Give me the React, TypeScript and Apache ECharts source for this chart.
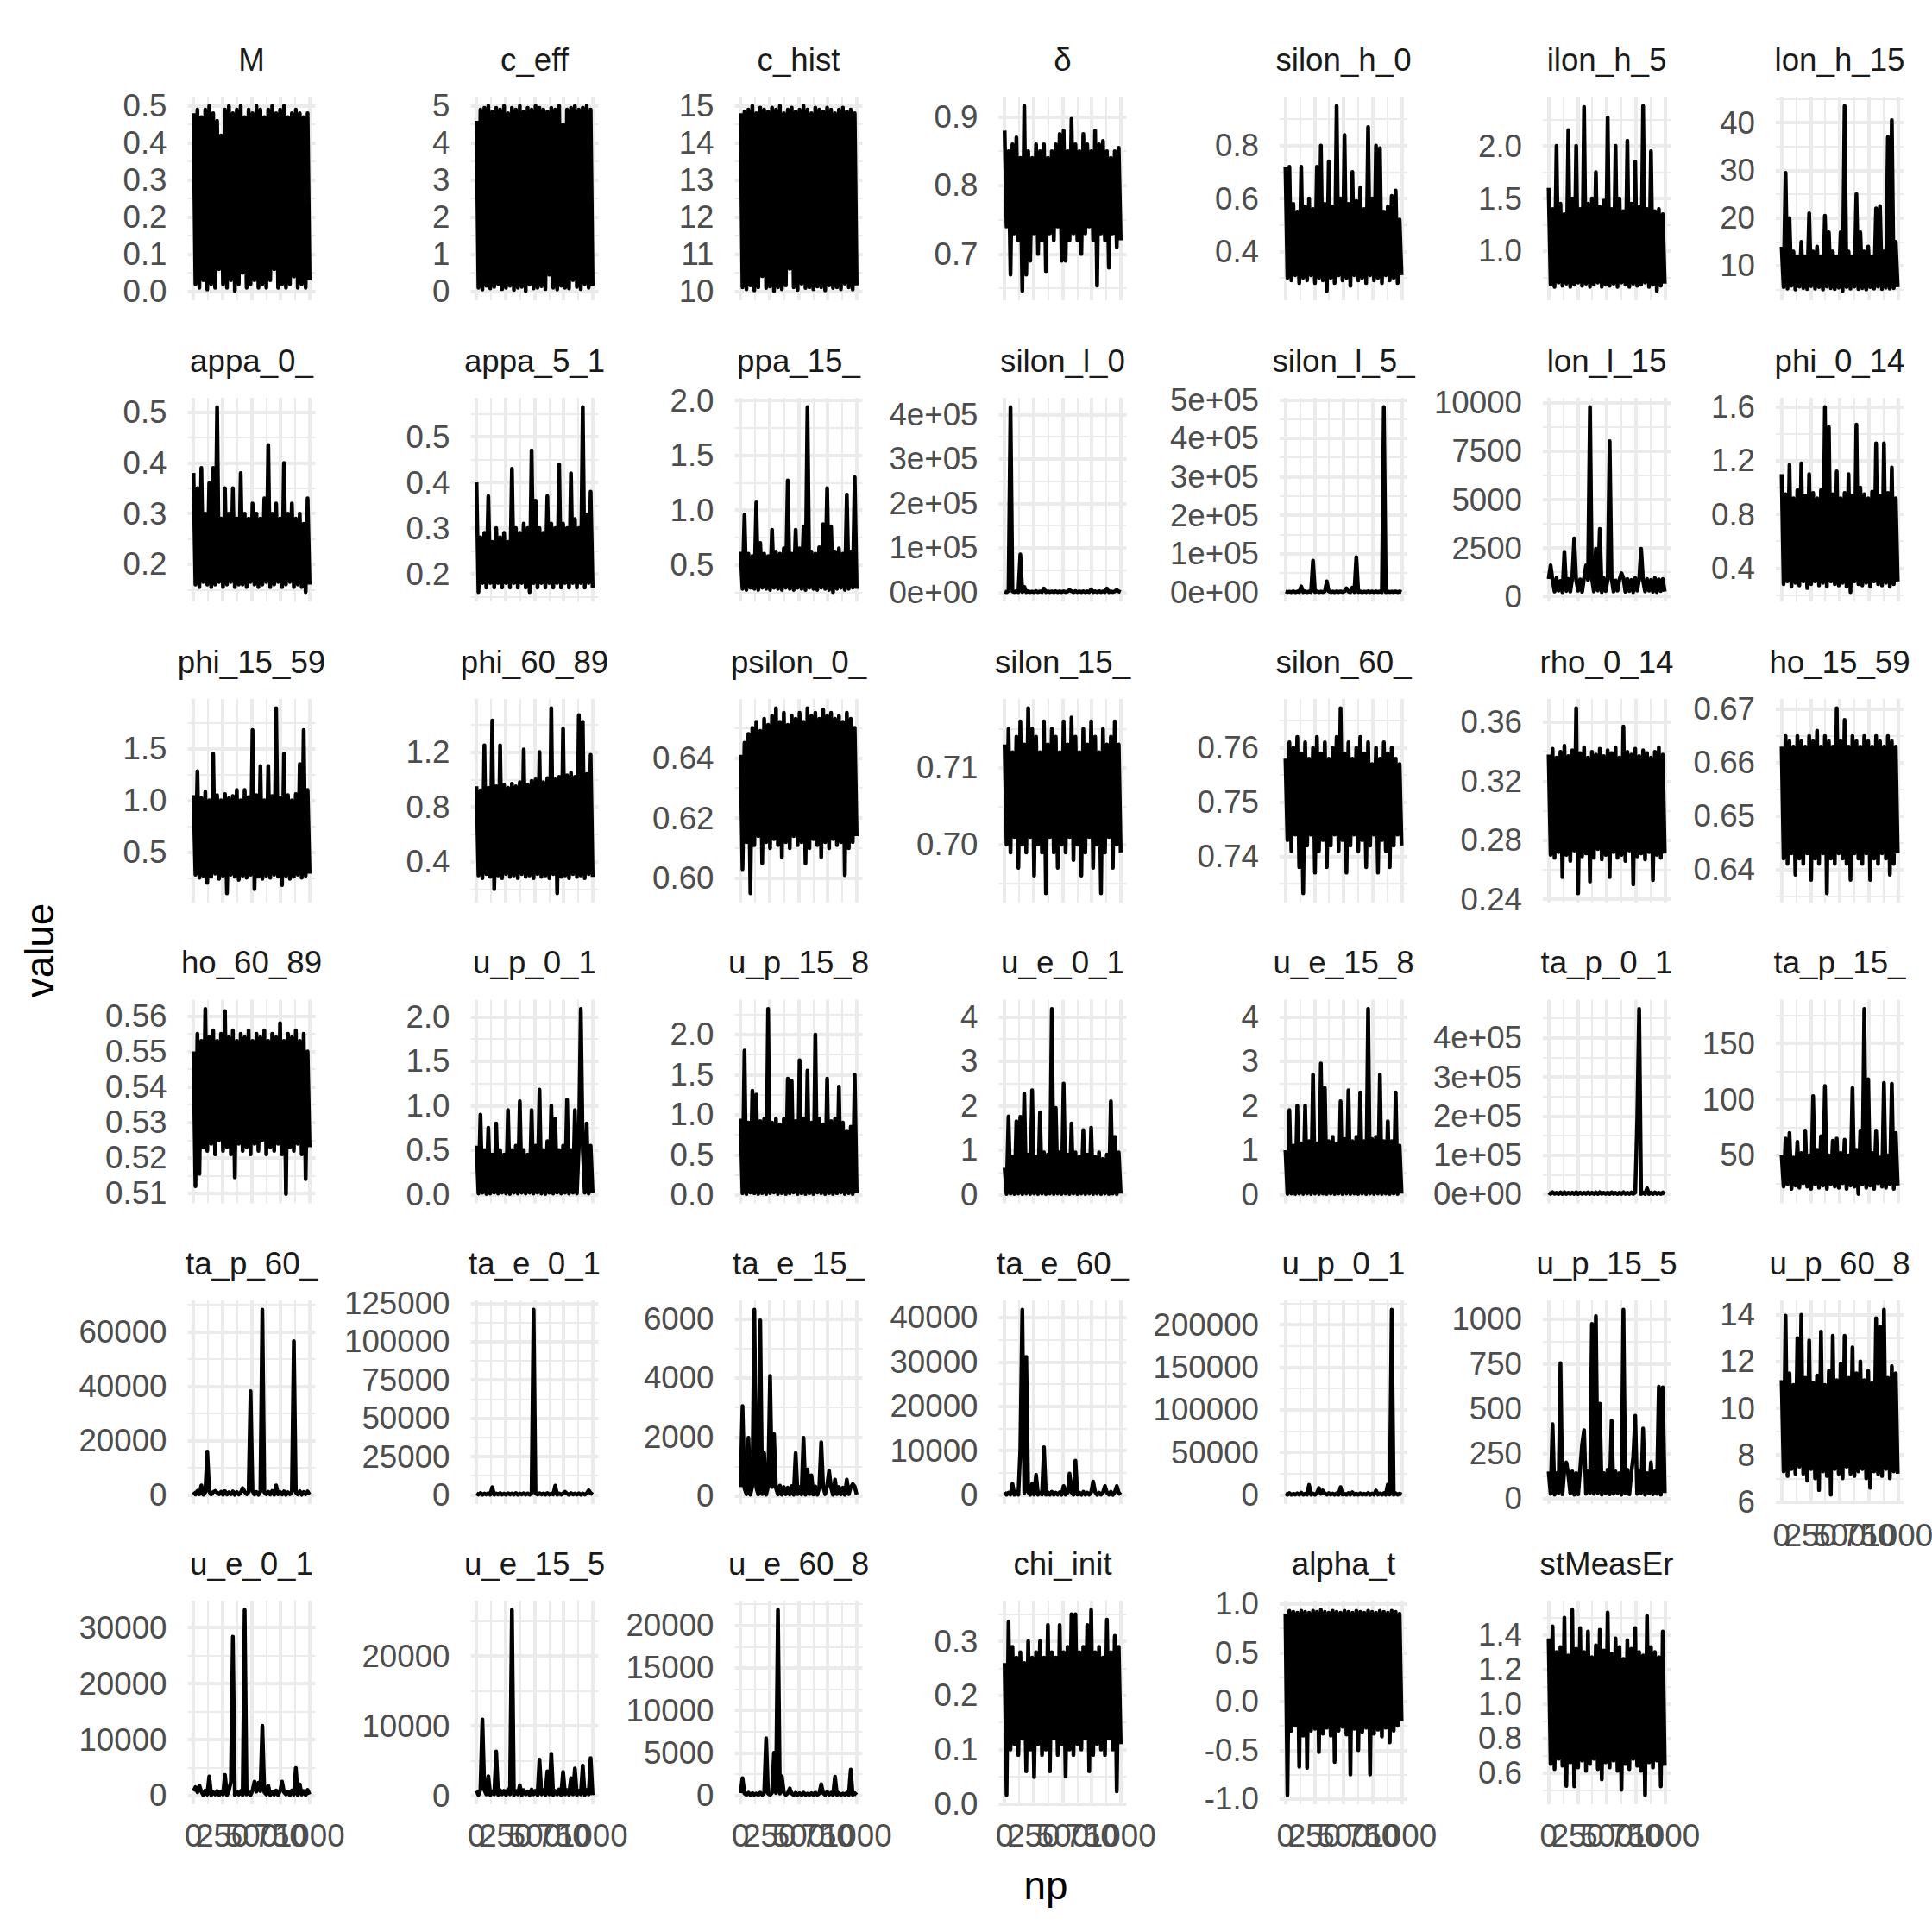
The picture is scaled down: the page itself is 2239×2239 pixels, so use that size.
import React, { useEffect, useRef } from "react";
import * as echarts from "echarts";

// ---------- facet strip texts (as visible, clipped by the strip) ----------
const stripLabels = [
  "M", "c_eff", "c_hist", "δ", "silon_h_0", "ilon_h_5", "lon_h_15",
  "appa_0_", "appa_5_1", "ppa_15_", "silon_l_0", "silon_l_5_", "lon_l_15", "phi_0_14",
  "phi_15_59", "phi_60_89", "psilon_0_", "silon_15_", "silon_60_", "rho_0_14", "ho_15_59",
  "ho_60_89", "u_p_0_1", "u_p_15_8", "u_e_0_1", "u_e_15_8", "ta_p_0_1", "ta_p_15_",
  "ta_p_60_", "ta_e_0_1", "ta_e_15_", "ta_e_60_", "u_p_0_1", "u_p_15_5", "u_p_60_8",
  "u_e_0_1", "u_e_15_5", "u_e_60_8", "chi_init", "alpha_t", "stMeasEr",
];

// ---------- tick labels ----------
const xTickLabels = ["0", "250", "500", "750", "1000"];
const xMinorTicks = [125, 375, 625, 875];
const yTickLabels: string[][] = [
  ["0.0", "0.1", "0.2", "0.3", "0.4", "0.5"],
  ["0", "1", "2", "3", "4", "5"],
  ["10", "11", "12", "13", "14", "15"],
  ["0.7", "0.8", "0.9"],
  ["0.4", "0.6", "0.8"],
  ["1.0", "1.5", "2.0"],
  ["10", "20", "30", "40"],
  ["0.2", "0.3", "0.4", "0.5"],
  ["0.2", "0.3", "0.4", "0.5"],
  ["0.5", "1.0", "1.5", "2.0"],
  ["0e+00", "1e+05", "2e+05", "3e+05", "4e+05"],
  ["0e+00", "1e+05", "2e+05", "3e+05", "4e+05", "5e+05"],
  ["0", "2500", "5000", "7500", "10000"],
  ["0.4", "0.8", "1.2", "1.6"],
  ["0.5", "1.0", "1.5"],
  ["0.4", "0.8", "1.2"],
  ["0.60", "0.62", "0.64"],
  ["0.70", "0.71"],
  ["0.74", "0.75", "0.76"],
  ["0.24", "0.28", "0.32", "0.36"],
  ["0.64", "0.65", "0.66", "0.67"],
  ["0.51", "0.52", "0.53", "0.54", "0.55", "0.56"],
  ["0.0", "0.5", "1.0", "1.5", "2.0"],
  ["0.0", "0.5", "1.0", "1.5", "2.0"],
  ["0", "1", "2", "3", "4"],
  ["0", "1", "2", "3", "4"],
  ["0e+00", "1e+05", "2e+05", "3e+05", "4e+05"],
  ["50", "100", "150"],
  ["0", "20000", "40000", "60000"],
  ["0", "25000", "50000", "75000", "100000", "125000"],
  ["0", "2000", "4000", "6000"],
  ["0", "10000", "20000", "30000", "40000"],
  ["0", "50000", "100000", "150000", "200000"],
  ["0", "250", "500", "750", "1000"],
  ["6", "8", "10", "12", "14"],
  ["0", "10000", "20000", "30000"],
  ["0", "10000", "20000"],
  ["0", "5000", "10000", "15000", "20000"],
  ["0.0", "0.1", "0.2", "0.3"],
  ["-1.0", "-0.5", "0.0", "0.5", "1.0"],
  ["0.6", "0.8", "1.0", "1.2", "1.4"],
];

// ---------- trace values (evenly spaced over np 1..1000) ----------
const M_ = [
  0.48,0.02,0.49,0.01,0.47,0.03,0.49,0.005,0.50,0.02,
  0.48,0.01,0.46,0.06,0.42,0.02,0.49,0.01,0.50,0.03,
  0.48,0.001,0.49,0.02,0.50,0.05,0.47,0.01,0.49,0.02,
  0.48,0.03,0.50,0.01,0.49,0.02,0.47,0.01,0.49,0.03,
  0.50,0.06,0.48,0.01,0.49,0.02,0.50,0.01,0.47,0.02,
  0.48,0.04,0.49,0.01,0.48,0.02,0.47,0.01,0.48,0.03,
];
const c_eff = [
  4.6,0.1,4.9,0.05,4.95,0.15,5.0,0.08,4.85,0.12,
  4.95,0.2,4.9,0.06,5.0,0.1,4.8,0.15,4.95,0.04,
  4.9,0.1,5.0,0.12,4.85,0.01,4.95,0.18,4.9,0.08,
  5.0,0.1,4.95,0.14,4.9,0.06,4.85,0.45,4.95,0.1,
  4.9,0.05,5.0,0.15,4.5,0.1,4.9,0.08,4.95,0.3,
  5.0,0.12,4.9,0.06,4.95,0.2,5.0,0.1,4.9,0.15,
];
const c_hist = [
  14.8,10.1,14.85,10.05,14.9,10.15,15.0,10.02,14.8,10.1,
  14.95,10.4,14.9,10.08,14.85,10.12,14.95,10.0,14.9,10.1,
  15.0,10.05,14.8,10.15,14.9,10.6,14.95,10.1,14.85,10.03,
  14.9,10.2,15.0,10.08,14.9,10.1,14.8,10.05,14.95,10.12,
  14.9,10.1,14.85,10.02,14.95,10.15,14.9,10.08,14.8,10.1,
  14.9,10.05,14.95,10.2,14.85,10.1,14.9,10.04,14.8,10.15,
];
const delta = [
  0.88,0.74,0.85,0.67,0.86,0.73,0.87,0.72,0.84,0.646,
  0.916,0.67,0.85,0.69,0.84,0.73,0.86,0.70,0.85,0.72,
  0.86,0.675,0.84,0.73,0.85,0.72,0.86,0.74,0.875,0.69,
  0.88,0.69,0.85,0.72,0.897,0.73,0.86,0.72,0.85,0.70,
  0.875,0.73,0.86,0.74,0.85,0.72,0.88,0.654,0.86,0.73,
  0.865,0.72,0.85,0.68,0.84,0.73,0.85,0.71,0.855,0.72,
];
const eps_h_0 = [
  0.72,0.30,0.72,0.29,0.58,0.31,0.55,0.28,0.72,0.30,
  0.57,0.29,0.60,0.31,0.56,0.28,0.72,0.30,0.80,0.29,
  0.58,0.25,0.74,0.30,0.57,0.28,0.95,0.31,0.60,0.29,
  0.84,0.30,0.58,0.27,0.70,0.31,0.59,0.29,0.64,0.30,
  0.56,0.28,0.87,0.31,0.60,0.29,0.80,0.30,0.79,0.28,
  0.55,0.31,0.57,0.29,0.61,0.30,0.63,0.28,0.52,0.31,
];
const eps_h_5 = [
  1.60,0.68,1.40,0.66,2.00,0.70,1.45,0.67,1.35,0.69,
  2.15,0.66,1.50,0.68,2.00,0.70,1.40,0.67,2.37,0.69,
  1.45,0.66,1.50,0.68,1.75,0.70,1.42,0.66,1.48,0.68,
  2.27,0.67,1.40,0.69,2.00,0.66,1.50,0.70,1.38,0.68,
  2.05,0.66,1.45,0.69,1.85,0.67,1.42,0.68,2.38,0.70,
  1.40,0.66,1.95,0.68,1.38,0.62,1.40,0.67,1.35,0.69,
];
const eps_h_15 = [
  14,5.5,29.5,5.2,20,5.8,13,5.0,12,5.6,
  15,5.3,12,5.1,21,5.7,13,5.2,14,5.5,
  12,5.0,20.5,5.6,17,5.3,13,5.1,12,5.4,
  17,4.7,43.5,5.5,13,5.2,12,5.6,25,5.1,
  17,5.3,13,5.0,14,5.5,12,5.2,22,5.6,
  22.5,5.1,13,5.4,37,5.2,40.5,5.3,15,5.5,
];
const kappa_0 = [
  0.38,0.16,0.35,0.155,0.39,0.165,0.30,0.16,0.36,0.155,
  0.39,0.16,0.51,0.165,0.29,0.155,0.35,0.16,0.30,0.165,
  0.35,0.155,0.29,0.16,0.38,0.16,0.30,0.155,0.29,0.165,
  0.32,0.16,0.30,0.155,0.29,0.16,0.33,0.165,0.435,0.155,
  0.30,0.16,0.32,0.165,0.29,0.155,0.40,0.16,0.30,0.165,
  0.32,0.155,0.29,0.16,0.30,0.155,0.28,0.145,0.33,0.16,
];
const kappa_5 = [
  0.40,0.16,0.28,0.18,0.29,0.17,0.37,0.18,0.27,0.17,
  0.30,0.18,0.28,0.17,0.29,0.18,0.27,0.17,0.43,0.18,
  0.30,0.17,0.29,0.18,0.31,0.17,0.30,0.16,0.47,0.18,
  0.36,0.17,0.30,0.18,0.29,0.17,0.37,0.18,0.31,0.17,
  0.30,0.18,0.44,0.17,0.31,0.18,0.30,0.17,0.42,0.18,
  0.32,0.17,0.30,0.18,0.565,0.17,0.33,0.18,0.38,0.17,
];
const kappa_15 = [
  0.62,0.28,0.96,0.27,0.60,0.29,0.58,0.28,1.07,0.27,
  0.70,0.29,0.60,0.28,0.58,0.27,0.82,0.29,0.62,0.28,
  0.60,0.27,0.65,0.29,1.27,0.28,0.60,0.27,0.82,0.29,
  0.65,0.28,0.85,0.27,1.94,0.29,0.62,0.28,0.60,0.27,
  0.66,0.29,0.87,0.28,1.20,0.27,0.85,0.25,0.62,0.28,
  0.65,0.29,0.60,0.27,1.14,0.28,0.62,0.29,1.30,0.28,
];
const eps_l_0 = [
  1500,200,2500,417000,1800,300,2200,100,85000,400,
  12000,200,2000,300,1500,100,2400,300,1800,200,
  8000,100,2000,300,1700,200,2300,100,1900,300,
  2100,200,1600,5000,2000,100,2400,300,1800,200,
  2200,100,1900,300,6000,200,2000,100,2300,300,
  1700,200,8000,100,2100,300,1800,5000,2000,200,
];
const eps_l_5 = [
  2000,300,1500,200,2500,100,1800,300,15000,200,
  2200,100,1900,300,82000,200,2400,100,1700,300,
  2100,28000,2000,200,1600,100,2300,300,1900,200,
  2200,10000,1800,100,12000,300,91000,200,2000,100,
  1700,300,2400,200,1900,100,2200,300,1800,200,
  481000,100,2000,300,1600,200,2100,100,1900,300,
];
const eps_l_15 = [
  900,1600,850,250,950,300,800,220,2300,280,
  900,250,950,2990,820,300,880,240,950,1600,
  850,9780,900,260,2455,300,3485,220,950,280,
  850,8015,900,250,820,300,880,1200,950,240,
  900,280,850,220,950,300,880,2455,820,260,
  900,300,850,240,950,220,880,280,900,250,
];
const phi_0_14 = [
  1.10,0.28,0.95,0.30,1.17,0.26,0.92,0.29,0.98,0.27,
  1.18,0.30,0.94,0.25,1.10,0.28,0.96,0.30,0.92,0.27,
  0.98,0.29,1.60,0.26,1.45,0.30,0.95,0.28,1.12,0.27,
  0.92,0.29,0.96,0.26,1.10,0.22,0.94,0.30,1.47,0.28,
  1.00,0.27,0.95,0.29,0.92,0.26,0.97,0.30,1.33,0.28,
  0.94,0.27,1.33,0.29,0.96,0.26,1.15,0.28,0.92,0.30,
];
const phi_15_59 = [
  1.05,0.28,1.28,0.25,1.02,0.27,1.08,0.20,1.00,0.26,
  1.45,0.29,1.05,0.24,1.00,0.27,1.06,0.10,1.02,0.28,
  1.04,0.26,1.10,0.23,1.00,0.27,1.10,0.25,1.03,0.28,
  1.68,0.14,1.05,0.26,1.33,0.24,1.00,0.27,1.33,0.25,
  1.04,0.28,1.89,0.26,1.02,0.18,1.45,0.27,1.05,0.24,
  1.00,0.26,1.06,0.28,1.35,0.25,1.68,0.27,1.10,0.29,
];
const phi_60_89 = [
  0.95,0.30,0.92,0.28,1.25,0.31,0.94,0.29,1.43,0.20,
  0.95,0.30,1.25,0.28,0.96,0.31,0.94,0.29,0.97,0.30,
  0.95,0.28,0.98,0.31,1.22,0.29,0.96,0.30,0.99,0.28,
  1.00,0.31,1.20,0.29,0.98,0.30,1.01,0.28,1.52,0.31,
  1.00,0.17,1.02,0.29,1.37,0.30,1.03,0.28,1.05,0.31,
  1.02,0.29,1.47,0.30,1.42,0.28,1.04,0.31,1.18,0.29,
];
const eps_0 = [
  0.641,0.603,0.645,0.612,0.648,0.595,0.650,0.611,0.652,0.614,
  0.649,0.605,0.653,0.612,0.651,0.610,0.654,0.613,0.6565,0.611,
  0.652,0.607,0.655,0.612,0.651,0.610,0.654,0.614,0.653,0.611,
  0.655,0.612,0.652,0.605,0.6565,0.610,0.654,0.613,0.655,0.611,
  0.653,0.607,0.656,0.612,0.654,0.610,0.655,0.613,0.653,0.611,
  0.654,0.612,0.652,0.601,0.655,0.610,0.653,0.612,0.650,0.614,
];
const eps_15 = [
  0.713,0.700,0.715,0.699,0.712,0.701,0.714,0.697,0.716,0.700,
  0.713,0.699,0.7177,0.701,0.715,0.696,0.714,0.700,0.712,0.699,
  0.716,0.6937,0.713,0.701,0.715,0.699,0.714,0.697,0.712,0.700,
  0.716,0.699,0.713,0.701,0.7165,0.698,0.714,0.700,0.712,0.696,
  0.715,0.699,0.713,0.701,0.716,0.697,0.714,0.700,0.712,0.6937,
  0.715,0.699,0.713,0.701,0.714,0.697,0.716,0.700,0.713,0.699,
];
const eps_60 = [
  0.758,0.743,0.761,0.741,0.760,0.744,0.762,0.738,0.759,0.7332,
  0.761,0.742,0.758,0.744,0.760,0.737,0.762,0.741,0.759,0.743,
  0.761,0.738,0.758,0.742,0.760,0.744,0.762,0.741,0.7673,0.743,
  0.759,0.737,0.761,0.742,0.758,0.744,0.760,0.741,0.762,0.743,
  0.759,0.738,0.761,0.742,0.757,0.744,0.760,0.737,0.758,0.743,
  0.761,0.741,0.759,0.738,0.760,0.742,0.758,0.744,0.757,0.742,
];
const rho_0_14 = [
  0.338,0.270,0.342,0.268,0.336,0.272,0.340,0.255,0.344,0.270,
  0.337,0.266,0.341,0.273,0.3695,0.244,0.339,0.269,0.343,0.271,
  0.336,0.252,0.340,0.268,0.338,0.274,0.342,0.267,0.337,0.270,
  0.341,0.255,0.339,0.272,0.343,0.268,0.336,0.270,0.357,0.266,
  0.340,0.273,0.338,0.250,0.342,0.269,0.337,0.271,0.341,0.267,
  0.339,0.272,0.336,0.253,0.340,0.270,0.343,0.268,0.338,0.271,
];
const rho_15_59 = [
  0.663,0.642,0.665,0.641,0.664,0.643,0.663,0.639,0.665,0.642,
  0.664,0.641,0.663,0.643,0.665,0.638,0.664,0.642,0.666,0.641,
  0.663,0.643,0.665,0.6355,0.664,0.642,0.663,0.641,0.6702,0.643,
  0.664,0.642,0.668,0.641,0.663,0.638,0.665,0.643,0.664,0.642,
  0.663,0.641,0.665,0.643,0.664,0.638,0.663,0.642,0.665,0.641,
  0.664,0.643,0.663,0.642,0.665,0.639,0.664,0.641,0.663,0.643,
];
const rho_60_89 = [
  0.550,0.512,0.555,0.5155,0.553,0.523,0.562,0.522,0.554,0.524,
  0.556,0.521,0.553,0.525,0.555,0.522,0.5614,0.523,0.554,0.521,
  0.556,0.5145,0.553,0.524,0.555,0.522,0.554,0.523,0.556,0.521,
  0.553,0.524,0.555,0.522,0.554,0.525,0.556,0.521,0.553,0.523,
  0.555,0.522,0.554,0.524,0.558,0.521,0.553,0.5098,0.555,0.523,
  0.554,0.522,0.556,0.524,0.553,0.521,0.555,0.514,0.550,0.523,
];
const tau_p_0 = [
  0.55,0.01,0.90,0.02,0.50,0.005,0.75,0.01,0.45,0.02,
  0.80,0.01,0.50,0.02,0.45,0.01,0.95,0.005,0.50,0.02,
  0.55,0.01,1.05,0.02,0.50,0.01,0.45,0.02,0.95,0.01,
  0.55,0.02,1.18,0.01,0.50,0.005,0.60,0.02,1.00,0.01,
  0.85,0.02,0.50,0.01,0.55,0.02,1.07,0.01,0.50,0.02,
  0.95,0.01,0.55,2.09,0.50,0.02,0.80,0.01,0.55,0.02,
];
const tau_p_15 = [
  0.95,0.02,1.80,0.01,0.90,0.03,1.30,0.02,1.25,0.01,
  0.92,0.02,0.95,0.01,2.32,0.02,0.90,0.03,0.95,0.01,
  0.88,0.02,0.95,0.01,1.45,0.02,1.42,0.03,0.92,0.01,
  1.68,0.02,0.95,0.01,1.55,0.02,0.90,0.01,2.00,0.03,
  0.95,0.02,0.88,0.01,1.45,0.02,0.92,0.01,0.95,0.02,
  1.35,0.03,0.90,0.01,0.80,0.02,0.85,0.01,1.50,0.02,
];
const tau_e_0 = [
  0.60,0.01,1.76,0.02,0.85,0.01,1.65,0.02,1.75,0.01,
  2.27,0.02,0.90,0.01,2.35,0.02,0.85,0.01,1.85,0.02,
  0.95,0.01,0.90,0.02,4.18,0.01,1.95,0.02,0.95,0.01,
  2.50,0.02,0.90,0.01,1.60,0.02,0.95,0.01,0.85,0.02,
  1.45,0.01,0.90,0.02,1.50,0.01,0.85,0.02,0.95,0.01,
  0.80,0.02,0.90,0.01,2.10,0.02,1.30,0.01,0.95,0.02,
];
const tau_e_15 = [
  1.00,0.01,1.90,0.02,1.10,0.01,2.00,0.02,1.15,0.01,
  2.00,0.02,1.20,0.01,2.70,0.02,1.15,0.01,2.95,0.02,
  2.40,0.01,1.20,0.02,1.30,0.01,1.15,0.02,2.10,0.01,
  1.25,0.02,2.35,0.01,1.20,0.02,1.30,0.01,2.30,0.02,
  1.20,0.01,4.18,0.02,1.25,0.01,1.30,0.02,2.70,0.01,
  1.20,0.02,1.65,0.01,1.20,0.02,2.30,0.01,1.10,0.02,
];
const eta_p_0 = [
  4000,500,5000,800,3500,300,4500,600,5000,400,
  3800,700,4200,500,5000,300,4000,600,3600,800,
  4800,400,3900,600,4500,300,5000,700,3700,500,
  4200,400,4800,600,3600,300,4300,700,5000,500,
  3800,400,4500,600,3900,184000,474000,500,4200,300,
  15000,600,4000,400,4600,700,3800,500,4400,300,
];
const eta_p_15 = [
  50,22,65,24,70,20,48,23,62,21,
  52,25,72,22,50,20,103,24,55,21,
  67,23,112,20,50,24,63,22,65,21,
  52,25,64,20,50,23,110,22,55,15.4,
  72,24,180.8,21,118,23,52,20,72,25,
  48,22,114.6,21,50,24,114,20,70,23,
];
const eta_p_60 = [
  1200,200,1500,300,3500,100,1000,16000,1300,200,
  1100,1500,900,300,1200,100,1400,200,1000,300,
  1300,100,1100,200,900,2500,1200,300,1000,38200,
  1400,200,1100,100,1300,68200,1000,300,1200,200,
  1500,100,3500,300,1100,200,1300,100,1000,300,
  1200,56600,900,200,1400,100,1100,300,1300,200,
];
const eta_e_0 = [
  1000,200,1200,100,900,300,1100,200,5000,100,
  1000,300,1200,200,900,100,1100,300,1000,200,
  1200,100,900,300,1100,200,1000,100,1200,120900,
  900,200,1100,300,1000,100,1200,200,900,300,
  6000,100,1000,200,1100,2000,900,100,1200,300,
  1000,200,1100,100,900,300,1000,3000,1200,200,
];
const eta_e_15 = [
  300,3050,250,60,1970,40,350,6320,280,50,
  5950,60,1450,40,320,4070,300,2100,260,50,
  350,40,300,60,280,50,330,40,1450,60,
  300,50,1970,40,900,60,700,50,320,40,
  280,1820,300,60,350,850,280,40,550,60,
  300,50,280,40,550,60,300,400,320,50,
];
const eta_e_60 = [
  600,50,500,80,2500,40,700,60,10300,41800,
  500,31160,600,40,2500,70,4500,50,500,80,
  10770,40,600,60,700,50,500,80,600,40,
  2000,60,500,4800,600,50,7740,80,500,40,
  700,60,500,50,600,3000,700,40,500,80,
  600,2000,500,60,700,40,600,2000,500,50,
];
const mu_p_0 = [
  1500,200,2000,100,1200,300,1800,200,2500,100,
  1400,300,11700,200,1600,100,2200,8000,1300,5000,
  1700,200,2000,300,1500,100,1800,200,9000,300,
  1400,100,2100,200,3000,300,1600,100,1900,200,
  1300,300,2200,100,1500,200,5000,300,1700,100,
  2000,200,12000,300,217700,100,1800,200,1400,300,
];
const mu_p_15 = [
  150,25,413,20,140,30,754,22,160,200,
  130,28,150,20,140,22,160,300,380,25,
  150,30,973,25,1016,30,527,20,140,28,
  160,22,433,25,150,30,140,20,1052,28,
  160,22,140,230,460,25,150,30,389,20,
  140,28,200,22,150,25,622,20,619,30,
];
const mu_p_60 = [
  11.2,7.3,13.96,7.1,11.5,7.4,11.0,7.2,13.0,7.5,
  14.0,7.2,11.3,6.9,12.9,7.4,11.1,7.0,11.4,6.5,
  13.28,7.3,11.0,7.1,11.6,6.3,13.1,7.4,11.2,7.2,
  11.9,7.0,13.1,7.5,11.3,7.2,12.6,7.1,11.5,7.3,
  12.0,7.4,11.2,7.0,11.6,6.6,11.1,7.3,13.85,7.2,
  13.5,7.1,14.22,7.4,11.3,7.0,11.8,7.3,11.5,7.2,
];
const mu_e_0 = [
  800,1500,600,1800,700,100,900,200,3400,100,
  600,200,800,100,700,200,3700,100,900,2500,
  28370,100,700,200,800,100,33150,200,600,100,
  900,2500,700,2300,800,12450,600,200,1800,100,
  700,200,900,100,800,2500,600,200,700,100,
  900,200,4930,100,2000,200,800,100,1000,200,
];
const mu_e_15 = [
  700,100,900,10900,800,200,2800,100,600,200,
  6330,100,800,200,700,100,900,200,26600,100,
  700,200,1500,100,800,200,600,100,900,200,
  700,100,5180,200,800,100,3500,200,6000,100,
  700,200,900,100,3400,200,800,100,2500,200,
  3900,100,700,200,4300,100,800,200,5390,100,
];
const mu_e_60 = [
  250,2000,200,40,300,20,250,50,200,30,
  300,40,250,6700,200,30,300,5000,250,21830,
  200,2200,300,40,250,800,200,30,300,50,
  250,20,300,40,200,30,250,50,300,40,
  200,1300,250,30,400,50,300,20,2180,40,
  250,30,200,50,300,20,3010,40,250,30,
];
const chi_init = [
  0.26,0.016,0.336,0.10,0.29,0.11,0.27,0.09,0.28,0.12,
  0.26,0.06,0.30,0.10,0.27,0.049,0.28,0.11,0.30,0.09,
  0.27,0.10,0.33,0.06,0.28,0.12,0.27,0.09,0.33,0.11,
  0.28,0.05,0.29,0.10,0.35,0.09,0.35,0.11,0.28,0.10,
  0.29,0.12,0.33,0.06,0.358,0.09,0.28,0.11,0.29,0.10,
  0.27,0.09,0.34,0.12,0.28,0.10,0.31,0.023,0.29,0.11,
];
const alpha_t = [
  0.90,-0.96,0.93,-0.30,0.92,-0.25,0.91,-0.67,0.93,-0.35,
  0.92,-0.68,0.91,-0.30,0.93,-0.28,0.92,-0.52,0.94,-0.33,
  0.92,-0.27,0.91,-0.35,0.93,-0.62,0.92,-0.30,0.91,-0.26,
  0.93,-0.34,0.92,-0.75,0.91,-0.28,0.93,-0.50,0.92,-0.31,
  0.91,-0.27,0.93,-0.75,0.92,-0.33,0.91,-0.29,0.93,-0.36,
  0.92,-0.27,0.91,-0.42,0.93,-0.30,0.92,-0.25,0.90,-0.20,
];
const stMeasErr = [
  1.38,0.65,1.45,0.62,1.30,0.68,1.33,0.64,1.50,0.523,
  1.28,0.66,1.545,0.52,1.32,0.63,1.44,0.67,1.30,0.61,
  1.42,0.65,1.27,0.68,1.34,0.62,1.43,0.56,1.31,0.66,
  1.53,0.63,1.29,0.67,1.38,0.61,1.33,0.50,1.26,0.65,
  1.37,0.62,1.32,0.68,1.44,0.64,1.30,0.61,1.28,0.47,
  1.51,0.66,1.33,0.63,1.30,0.67,1.27,0.52,1.42,0.64,
];

const traces: number[][] = [
  M_, c_eff, c_hist, delta, eps_h_0, eps_h_5, eps_h_15,
  kappa_0, kappa_5, kappa_15, eps_l_0, eps_l_5, eps_l_15, phi_0_14,
  phi_15_59, phi_60_89, eps_0, eps_15, eps_60, rho_0_14, rho_15_59,
  rho_60_89, tau_p_0, tau_p_15, tau_e_0, tau_e_15, eta_p_0, eta_p_15,
  eta_p_60, eta_e_0, eta_e_15, eta_e_60, mu_p_0, mu_p_15, mu_p_60,
  mu_e_0, mu_e_15, mu_e_60, chi_init, alpha_t, stMeasErr,
];

// ---------- layout ----------
const FONT = "'Liberation Sans', Arial, Helvetica, sans-serif";
const COL_LEFT = [217.5, 545.5, 851.5, 1157.5, 1483, 1788, 2058];
const ROW_TOP = [112, 461, 810, 1158.5, 1507, 1855];
const PW = 148;
const PH = 236;
const TICK_FS = 36.7;
const GRID_COLOR = "#EBEBEB";

function labelFormatter(labels: string[], values: number[]) {
  return (v: number) => {
    for (let i = 0; i < values.length; i++) {
      if (Math.abs(v - values[i]) <= 1e-9 * Math.max(1, Math.abs(values[i]))) return labels[i];
    }
    return "";
  };
}

function buildOption() {
  const grid: any[] = [];
  const xAxis: any[] = [];
  const yAxis: any[] = [];
  const series: any[] = [];
  const graphic: any[] = [];
  const xMajor = xTickLabels.map(Number);
  // the x tick labels overlap each other (as in the reference); they are spread over
  // three axes so that none of them gets dropped by the overlap handling
  const xLabelSets = [
    [xMajor[0], xMajor[2]],
    [xMajor[1], xMajor[3]],
    [xMajor[4]],
  ];
  const xFmt = labelFormatter(xTickLabels, xMajor);
  const xLo = 1, xHi = 1000;
  const xPad = 0.05 * (xHi - xLo);

  const xLabelStyle = {
    fontSize: TICK_FS, fontFamily: FONT, color: "#4D4D4D", margin: 18,
    showMinLabel: true, showMaxLabel: true, hideOverlap: false,
  };

  traces.forEach((vals, p) => {
    const r = Math.floor(p / 7);
    const c = p % 7;
    const left = COL_LEFT[c];
    const top = ROW_TOP[r];
    grid.push({ left, top, width: PW, height: PH, containLabel: false, outerBoundsMode: "none", show: false });

    const n = vals.length;
    const data = vals.map((v, i) => [xLo + (i * (xHi - xLo)) / (n - 1), v]);
    const lo = Math.min(...vals);
    const hi = Math.max(...vals);
    const pad = 0.05 * (hi - lo);
    const yMin = lo - pad;
    const yMax = hi + pad;

    const labs = yTickLabels[p];
    const allMajor = labs.map(Number);
    const yMajor = allMajor.filter((v) => v >= yMin && v <= yMax);
    const step = allMajor[1] - allMajor[0];
    const yMinor = [allMajor[0] - step / 2]
      .concat(allMajor.slice(0, -1).map((v, i) => (v + allMajor[i + 1]) / 2))
      .concat([allMajor[allMajor.length - 1] + step / 2])
      .filter((v) => v > yMin && v < yMax);

    const showX = p >= 34;
    const xm = xMinorTicks.filter((v) => v > xLo - xPad && v < xHi + xPad);

    // x axis 3p: major grid lines
    xAxis.push({
      type: "value", gridIndex: p, position: "bottom",
      min: xLo - xPad, max: xHi + xPad,
      axisLine: { show: false, onZero: false },
      axisTick: { show: false, customValues: xMajor },
      splitLine: { show: true, customValues: xMajor, lineStyle: { color: GRID_COLOR, width: 4 } },
      axisLabel: { show: showX, customValues: xLabelSets[0], formatter: xFmt, ...xLabelStyle },
    });
    // x axis 3p+1: minor grid lines
    xAxis.push({
      type: "value", gridIndex: p, position: "bottom",
      min: xLo - xPad, max: xHi + xPad,
      axisLine: { show: false, onZero: false },
      axisTick: { show: false, customValues: xm },
      splitLine: { show: true, customValues: xm, lineStyle: { color: GRID_COLOR, width: 2 } },
      axisLabel: { show: showX, customValues: xLabelSets[1], formatter: xFmt, ...xLabelStyle },
    });
    // x axis 3p+2: remaining label only
    xAxis.push({
      type: "value", gridIndex: p, position: "bottom",
      min: xLo - xPad, max: xHi + xPad,
      axisLine: { show: false, onZero: false },
      axisTick: { show: false, customValues: xLabelSets[2] },
      splitLine: { show: false },
      axisLabel: { show: showX, customValues: xLabelSets[2], formatter: xFmt, ...xLabelStyle },
    });
    yAxis.push({
      type: "value", gridIndex: p, position: "left",
      min: yMin, max: yMax,
      axisLine: { show: false, onZero: false },
      axisTick: { show: false, customValues: yMajor },
      splitLine: { show: true, customValues: yMajor, lineStyle: { color: GRID_COLOR, width: 4 } },
      axisLabel: {
        show: true, customValues: yMajor, formatter: labelFormatter(labs, allMajor),
        fontSize: TICK_FS, fontFamily: FONT, color: "#4D4D4D", margin: 24,
        showMinLabel: true, showMaxLabel: true, hideOverlap: false,
      },
    });
    yAxis.push({
      type: "value", gridIndex: p, position: "right",
      min: yMin, max: yMax,
      axisLine: { show: false, onZero: false },
      axisTick: { show: false, customValues: yMinor },
      splitLine: { show: true, customValues: yMinor, lineStyle: { color: GRID_COLOR, width: 2 } },
      axisLabel: { show: false },
    });
    series.push({
      type: "line",
      xAxisIndex: 3 * p,
      yAxisIndex: 2 * p,
      data,
      symbol: "none",
      showSymbol: false,
      silent: true,
      clip: true,
      z: 5,
      lineStyle: { color: "#000000", width: 4.5, join: "round", cap: "butt" },
    });

    graphic.push({
      type: "text", silent: true,
      x: left + PW / 2, y: top - 43,
      style: {
        text: stripLabels[p], fontSize: TICK_FS, fontFamily: FONT, fill: "#1A1A1A",
        align: "center", verticalAlign: "middle",
      },
    });
  });

  graphic.push({
    type: "text", silent: true, x: 46, y: 1101.5, rotation: Math.PI / 2,
    style: { text: "value", fontSize: 45.8, fontFamily: FONT, fill: "#000000", align: "center", verticalAlign: "middle" },
  });
  graphic.push({
    type: "text", silent: true, x: 1212, y: 2185,
    style: { text: "np", fontSize: 45.8, fontFamily: FONT, fill: "#000000", align: "center", verticalAlign: "middle" },
  });

  return {
    animation: false,
    backgroundColor: "#FFFFFF",
    textStyle: { fontFamily: FONT },
    grid,
    xAxis,
    yAxis,
    series,
    graphic,
  };
}

export default function App() {
  const ref = useRef<HTMLDivElement>(null);
  useEffect(() => {
    if (!ref.current) return;
    const chart = echarts.init(ref.current, null, { renderer: "svg", width: 2239, height: 2239 });
    chart.setOption(buildOption() as any);
    return () => {
      chart.dispose();
    };
  }, []);
  return (
    <div
      ref={ref}
      style={{ position: "absolute", left: 0, top: 0, width: 2239, height: 2239, background: "#FFFFFF" }}
    />
  );
}
